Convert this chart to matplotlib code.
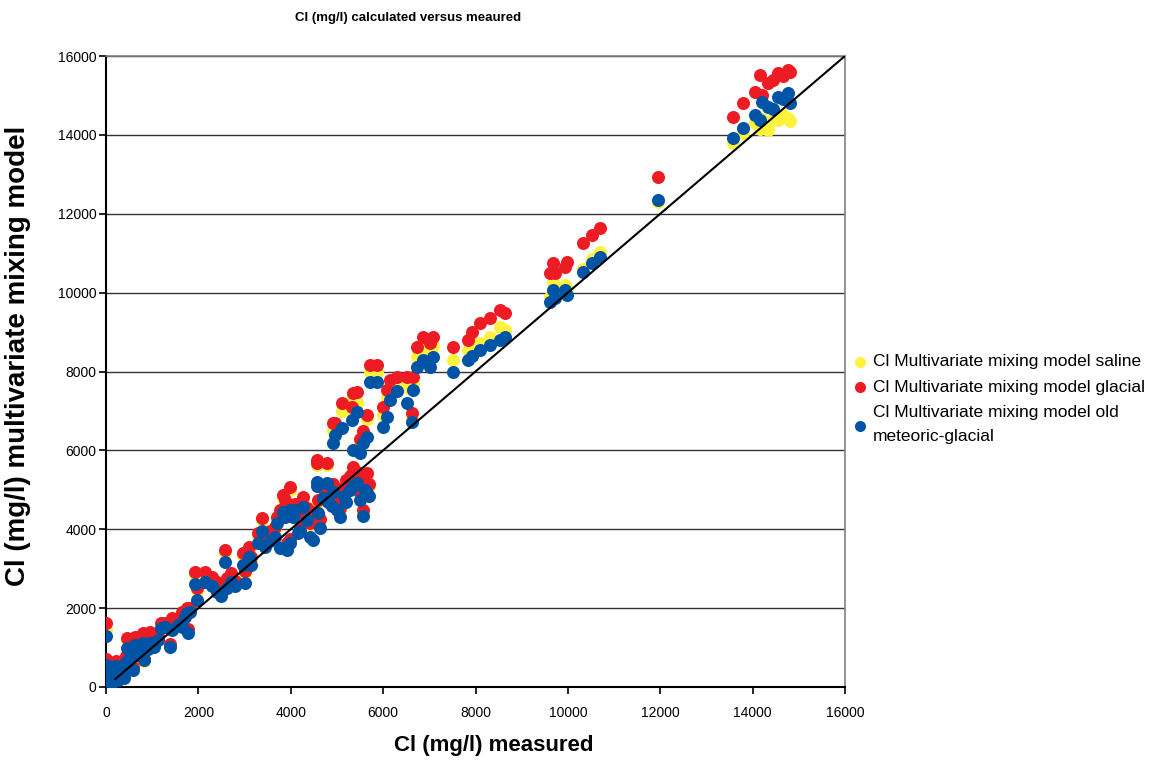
import matplotlib
matplotlib.use("Agg")
import matplotlib.pyplot as plt

plt.rcParams['font.family'] = ['Liberation Sans', 'DejaVu Sans']

# Cl measured (mg/l) and the three model estimates for each sample
measured = [
    0, 0, 15, 30, 45, 60, 80, 100, 120, 140, 160, 190, 220, 250, 280, 320, 360, 400, 430, 450,
    520, 580, 630, 700, 740, 800, 820, 900, 950, 1050, 1130, 1200, 1280, 1390, 1430, 1560, 1650, 1710, 1780, 1820, 1750,
    1930, 1970, 2140, 2300, 2400, 2580, 2620, 2700, 2800, 2970, 3010, 3150, 3290, 3380, 3450, 3550, 2500, 3100,
    3650, 3700, 3770, 3830, 3870, 3920, 3980, 3980, 4050, 4090, 4150, 4200, 4260, 4350, 4420, 4480, 4570, 4600,
    4630, 4700, 4790, 4810, 4900, 4920, 5000, 5070, 5150, 5200, 5280, 5350, 5430, 5500, 5560, 5600, 5650, 5700,
    4560, 4920, 4960, 5110, 5320, 5350, 5430, 5500, 5560, 5650, 5720, 5870, 6000, 6080, 6150, 6300, 6520, 6620,
    6650, 6730, 6860, 7010, 7080, 7510, 7840, 7920, 8100, 8310, 8530, 8640,
    9610, 9680, 9720, 9940, 9980, 10330, 10520, 10700, 11950,
    13570, 13790, 14050, 14160, 14200, 14330, 14450, 14550, 14650, 14770, 14800,
]
saline = [
    1450, 640, 430, 280, 520, 180, 370, 560, 250, 130, 430, 320, 600, 210, 470, 350, 560, 270, 700, 1180,
    820, 450, 1200, 870, 1000, 1300, 650, 1000, 1340, 1080, 1250, 1560, 1560, 1060, 1700, 1620, 1860, 1790, 1420, 1980, 1950,
    2860, 2470, 2860, 2750, 2600, 3400, 2700, 2850, 2650, 3350, 2900, 3250, 3850, 4230, 3700, 3900, 2450, 3500,
    4000, 4250, 4420, 4800, 4680, 3600, 5000, 3700, 4400, 4600, 4350, 4000, 4760, 4500, 4100, 4400, 5620, 4700,
    4200, 5000, 5620, 4800, 5000, 5100, 4700, 4500, 5000, 5200, 5300, 5520, 5400, 4900, 4450, 5300, 5380, 5100,
    5700, 6500, 6600, 7000, 7000, 7350, 7200, 6200, 6400, 6800, 8000, 8000, 6900, 7350, 7600, 7700, 7600, 6800,
    7700, 8400, 8600, 8500, 8650, 8290, 8550, 8700, 8720, 8880, 9130, 9050,
    9900, 10270, 10100, 10200, 10100, 10600, 10850, 11030, 12300,
    13800, 14050, 14300, 14150, 14400, 14130, 14400, 14380, 14500, 14430, 14350,
]
glacial = [
    1620, 700, 480, 330, 580, 230, 420, 620, 300, 180, 480, 370, 660, 250, 530, 400, 640, 320, 780, 1240,
    880, 500, 1270, 930, 1060, 1370, 700, 1060, 1400, 1140, 1300, 1620, 1620, 1100, 1750, 1680, 1900, 1830, 1460, 2000, 2000,
    2920, 2510, 2920, 2800, 2650, 3470, 2760, 2900, 2700, 3400, 2950, 3300, 3900, 4290, 3750, 3960, 2500, 3550,
    4050, 4300, 4490, 4870, 4740, 3650, 5070, 3750, 4450, 4650, 4400, 4050, 4820, 4550, 4150, 4450, 5680, 4750,
    4250, 5050, 5680, 4850, 5050, 5150, 4750, 4550, 5050, 5250, 5350, 5580, 5450, 4950, 4500, 5350, 5430, 5150,
    5750, 6700, 6700, 7200, 7100, 7450, 7480, 6300, 6500, 6900, 8170, 8170, 7100, 7530, 7790, 7860, 7860, 6950,
    7860, 8620, 8880, 8720, 8880, 8620, 8800, 9000, 9230, 9360, 9560, 9480,
    10500, 10750, 10500, 10650, 10780, 11260, 11460, 11640, 12930,
    14450, 14810, 15090, 15520, 15000, 15320, 15400, 15570, 15500, 15650, 15600,
]
meteoric = [
    1290, 560, 380, 240, 470, 150, 330, 500, 210, 100, 380, 280, 540, 180, 420, 300, 500, 240, 640, 990,
    760, 430, 1060, 800, 940, 1120, 680, 960, 1120, 1020, 1190, 1500, 1520, 1010, 1440, 1580, 1520, 1780, 1370, 1900, 1880,
    2620, 2200, 2660, 2560, 2400, 3170, 2500, 2650, 2550, 3090, 2640, 3100, 3650, 3950, 3550, 3700, 2300, 3300,
    3800, 4160, 3520, 4440, 4300, 3470, 4490, 3650, 4300, 4490, 3900, 3950, 4560, 4240, 3800, 3730, 5200, 4400,
    4030, 4800, 5170, 4700, 4600, 4950, 4500, 4310, 4850, 4700, 5000, 5100, 5170, 4750, 4330, 5000, 4920, 4850,
    5100, 6190, 6400, 6570, 6770, 6010, 6970, 5930, 6190, 6340, 7740, 7740, 6600, 6850, 7280, 7500, 7200, 6720,
    7530, 8120, 8290, 8120, 8370, 7990, 8290, 8400, 8550, 8670, 8800, 8880,
    9760, 10070, 9870, 10070, 9940, 10520, 10750, 10900, 12350,
    13920, 14180, 14500, 14380, 14840, 14710, 14650, 14960, 14900, 15060, 14800,
]

# 1:1 reference line
line_x = [200, 16000]
line_y = [200, 16000]

yticks = [0, 2000, 4000, 6000, 8000, 10000, 12000, 14000, 16000]

fig = plt.figure(figsize=(11.62, 7.6), dpi=100)
ax = fig.add_axes([106 / 1162, 1 - 687 / 760, 739 / 1162, 631 / 760])

for v in yticks[1:]:
    ax.axhline(v, color='#333333', lw=1.0, zorder=1)

ms = 88
ax.scatter(measured, saline, s=ms, color='#FFF23A', linewidths=0, zorder=2,
           label='Cl Multivariate mixing model saline')
ax.scatter(measured, glacial, s=ms, color='#ED1C24', linewidths=0, zorder=3,
           label='Cl Multivariate mixing model glacial')
ax.scatter(measured, meteoric, s=ms, color='#0054A6', linewidths=0, zorder=4,
           label='Cl Multivariate mixing model old\nmeteoric-glacial')
ax.plot(line_x, line_y, color='black', lw=1.5, zorder=5)

ax.set_xlim(0, 16000)
ax.set_ylim(0, 16000)
ax.set_xticks(yticks)
ax.set_yticks(yticks)
ax.tick_params(labelsize=10, length=5, width=1.2, direction='out')
ax.tick_params(axis='x', pad=9)
ax.tick_params(axis='y', pad=2)
for side in ['top', 'right']:
    ax.spines[side].set_color('#808080')
    ax.spines[side].set_linewidth(1.2)
for side in ['left', 'bottom']:
    ax.spines[side].set_linewidth(1.5)

ax.set_xlabel('Cl (mg/l) measured', fontsize=16, fontweight='bold')
ax.xaxis.set_label_coords((494 - 106) / 739, -(735 - 687) / 631)
ax.set_ylabel('Cl (mg/l) multivariate mixing model', fontsize=20, fontweight='bold')
ax.yaxis.set_label_coords(-(106 - 31) / 739, (687 - 356) / 631)
fig.text(408 / 1162, 1 - 18 / 760, 'Cl (mg/l) calculated versus meaured',
         ha='center', va='center', fontsize=9.5, fontweight='bold')

leg = fig.legend(loc='upper left', bbox_to_anchor=(851 / 1162, 1 - 354 / 760), frameon=False,
                 fontsize=12.5, handlelength=1.0, handletextpad=0.25, labelspacing=0.6,
                 markerscale=0.85, borderaxespad=0, borderpad=0)
for t in leg.get_texts():
    t.set_linespacing(1.75)

fig.savefig('out.png', dpi=100)
